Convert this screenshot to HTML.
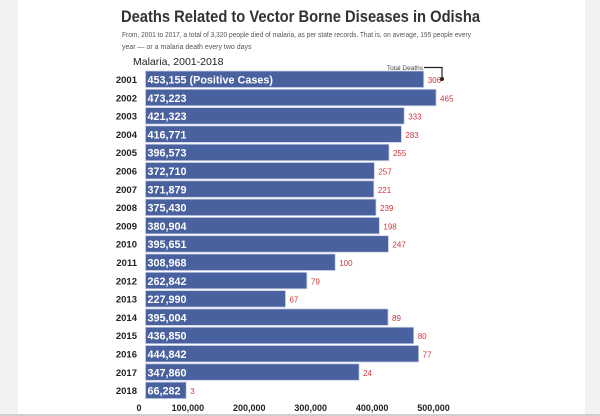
<!DOCTYPE html>
<html><head><meta charset="utf-8"><style>
body{margin:0;background:#f2f2f2;width:600px;height:416px;overflow:hidden}
svg{display:block;font-family:"Liberation Sans",sans-serif}
</style></head><body>
<svg id="c" width="600" height="416">
<rect x="18" y="0" width="567" height="414" fill="#ffffff"/>
<rect x="0" y="414" width="600" height="2" fill="#cfcfcf"/>
<text x="121" y="22" font-size="17" font-weight="bold" fill="#333" textLength="359" lengthAdjust="spacingAndGlyphs">Deaths Related to Vector Borne Diseases in Odisha</text>
<text x="122" y="37" font-size="7" fill="#555" textLength="349" lengthAdjust="spacingAndGlyphs">From, 2001 to 2017, a total of 3,320 people died of malaria, as per state records. That is, on average, 195 people every</text>
<text x="122" y="49" font-size="7" fill="#555">year — or a malaria death every two days</text>
<text x="133" y="65" font-size="10.5" fill="#222">Malaria, 2001-2018</text>
<text x="423" y="70" font-size="6.5" fill="#444" text-anchor="end">Total Deaths</text>
<path d="M424 67.5H442V79" stroke="#222" stroke-width="1.2" fill="none"/>
<circle cx="442" cy="79" r="2" fill="#222"/>
<g id="g"></g>
</svg>
<script>
const years=["2001","2002","2003","2004","2005","2006","2007","2008","2009","2010","2011","2012","2013","2014","2015","2016","2017","2018"];
const cases=[453155,473223,421323,416771,396573,372710,371879,375430,380904,395651,308968,262842,227990,395004,436850,444842,347860,66282];
const deaths=[306,465,333,283,255,257,221,239,198,247,100,79,67,89,80,77,24,3];
const ticks=[0,100000,200000,300000,400000,500000];
const tickLabels=["0","100,000","200,000","300,000","400,000","500,000"];
const x0=145.5,k=0.000614;
const xs=v=>x0+v*k;
const ys=i=>71+i*18.3;
const g=document.getElementById('g');
const NS="http://www.w3.org/2000/svg";
function mk(t,a,txt){const e=document.createElementNS(NS,t);for(const n in a)e.setAttribute(n,a[n]);if(txt!=null)e.textContent=txt;g.appendChild(e);return e;}
const fmt=v=>v.toLocaleString('en-US');
years.forEach((y,i)=>{
 const top=ys(i),w=xs(cases[i])-x0;
 const b=mk('rect',{x:x0,y:top,width:w,height:16.5,fill:'#4a61a0',stroke:'#c9d0e6','stroke-width':0.8});
 
 
 const yl=mk('text',{x:137,y:top+12,'font-size':9.5,'font-weight':'bold',fill:'#222','text-anchor':'end'},y);
 
 
 const vl=mk('text',{x:x0+2,y:top+12.5,'font-size':10.8,'font-weight':'bold',fill:'#fff'},fmt(cases[i])+(i===0?' (Positive Cases)':''));
 
 
 const dl=mk('text',{x:xs(cases[i])+4,y:top+12,'font-size':8,fill:'#d0343a'},String(deaths[i]));
 
 
});
ticks.forEach((t,i)=>{
 const e=mk('text',{x:Math.max(139,xs(t)-19),y:411,'font-size':9,'font-weight':'bold',fill:'#222','text-anchor':'middle'},tickLabels[i]);
 
 
});
</script>
</body></html>
